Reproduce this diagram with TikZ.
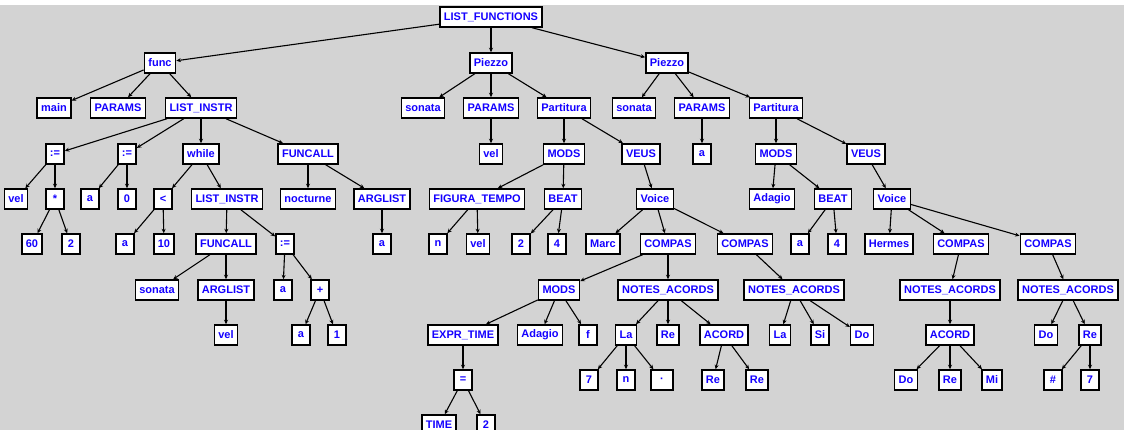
\documentclass[tikz,border=0pt]{standalone}
\usepackage{fontspec}
\setmainfont{Liberation Sans}
\usetikzlibrary{arrows.meta}
\definecolor{bggray}{RGB}{211,211,211}
\definecolor{txtblue}{RGB}{20,0,255}
\tikzset{
  b/.style={draw=black, fill=white, line width=1.5pt, inner xsep=4pt, inner ysep=0pt,
    minimum height=20pt, minimum width=18pt, text=txtblue,
    font=\fontsize{11}{13}\selectfont\bfseries},
  e/.style={line width=1.1pt, -{Stealth[length=4.5pt,width=4pt]}}
}
\begin{document}
\begin{tikzpicture}[x=1pt,y=-1pt]
\fill[white] (0,0) rectangle (1124,5);
\fill[bggray] (0,5) rectangle (1124,430);
\useasboundingbox (0,0) rectangle (1124,430);
% row 1
\node[b] (LF) at (491,17) {LIST\_FUNCTIONS};
% row 2
\node[b] (func) at (160,63) {func};
\node[b] (pz1) at (491,63) {Piezzo};
\node[b] (pz2) at (667,63) {Piezzo};
% row 3
\node[b] (main) at (54,108) {main};
\node[b] (par0) at (118,108) {PARAMS};
\node[b] (li1) at (201,108) {LIST\_INSTR};
\node[b] (son1) at (423,108) {sonata};
\node[b] (par1) at (491,108) {PARAMS};
\node[b] (part1) at (564,108) {Partitura};
\node[b] (son2) at (634,108) {sonata};
\node[b] (par2) at (702,108) {PARAMS};
\node[b] (part2) at (776,108) {Partitura};
% row 4
\node[b] (as1) at (55,154) {:=};
\node[b] (as2) at (127,154) {:=};
\node[b] (while) at (201,154) {while};
\node[b] (fc1) at (308,154) {FUNCALL};
\node[b] (vel1) at (491,154) {vel};
\node[b] (mods1) at (564,154) {MODS};
\node[b] (veus1) at (641,154) {VEUS};
\node[b] (a2) at (702,154) {a};
\node[b] (mods2) at (776,154) {MODS};
\node[b] (veus2) at (866,154) {VEUS};
% row 5
\node[b] (vel0) at (16,199) {vel};
\node[b] (mul) at (55,199) {*};
\node[b] (aa) at (90,199) {a};
\node[b] (zero) at (127,199) {0};
\node[b] (lt) at (163,199) {<};
\node[b] (li2) at (227,199) {LIST\_INSTR};
\node[b] (noct) at (308,199) {nocturne};
\node[b] (al1) at (382,199) {ARGLIST};
\node[b] (fig) at (477,199) {FIGURA\_TEMPO};
\node[b] (beat1) at (563,199) {BEAT};
\node[b] (voice1) at (655,199) {Voice};
\node[b] (adag2) at (772,199) {Adagio};
\node[b] (beat2) at (833,199) {BEAT};
\node[b] (voice2) at (892,199) {Voice};
% row 6
\node[b] (n60) at (32,244) {60};
\node[b] (n2a) at (71,244) {2};
\node[b] (ab) at (125,244) {a};
\node[b] (n10) at (164,244) {10};
\node[b] (fc2) at (226,244) {FUNCALL};
\node[b] (as3) at (285,244) {:=};
\node[b] (ac) at (382,244) {a};
\node[b] (nn1) at (438,244) {n};
\node[b] (vel2) at (478,244) {vel};
\node[b] (n2b) at (521,244) {2};
\node[b] (n4a) at (557,244) {4};
\node[b] (marc) at (603,244) {Marc};
\node[b] (cp1) at (668,244) {COMPAS};
\node[b] (cp2) at (745,244) {COMPAS};
\node[b] (ad) at (800,244) {a};
\node[b] (n4b) at (837,244) {4};
\node[b] (herm) at (889,244) {Hermes};
\node[b] (cp3) at (961,244) {COMPAS};
\node[b] (cp4) at (1048,244) {COMPAS};
% row 7
\node[b] (son3) at (157,290) {sonata};
\node[b] (al2) at (226,290) {ARGLIST};
\node[b] (ae) at (283,290) {a};
\node[b] (plus) at (320,290) {+};
\node[b] (mods3) at (559,290) {MODS};
\node[b] (na1) at (668,290) {NOTES\_ACORDS};
\node[b] (na2) at (794,290) {NOTES\_ACORDS};
\node[b] (na3) at (950,290) {NOTES\_ACORDS};
\node[b] (na4) at (1068,290) {NOTES\_ACORDS};
% row 8
\node[b] (vel3) at (226,335) {vel};
\node[b] (af) at (301,335) {a};
\node[b] (one) at (337,335) {1};
\node[b] (expr) at (463,335) {EXPR\_TIME};
\node[b] (adag1) at (540,335) {Adagio};
\node[b] (ff) at (588,335) {f};
\node[b] (la1) at (626,335) {La};
\node[b] (re1) at (668,335) {Re};
\node[b] (acd1) at (724,335) {ACORD};
\node[b] (la2) at (780,335) {La};
\node[b] (si) at (820,335) {Si};
\node[b] (do1) at (862,335) {Do};
\node[b] (acd2) at (950,335) {ACORD};
\node[b] (do2) at (1046,335) {Do};
\node[b] (re2) at (1090,335) {Re};
% row 9
\node[b] (eq) at (463,380) {=};
\node[b] (n7a) at (589,380) {7};
\node[b] (nn2) at (626,380) {n};
\node[b, minimum width=22pt] (dot) at (662,380) {·};
\node[b] (re3) at (713,380) {Re};
\node[b] (re4) at (757,380) {Re};
\node[b] (do3) at (906,380) {Do};
\node[b] (re5) at (950,380) {Re};
\node[b] (mi) at (992,380) {Mi};
\node[b] (sharp) at (1053,380) {\#};
\node[b] (n7b) at (1090,380) {7};
% row 10
\node[b] (time) at (439,425) {TIME};
\node[b] (n2c) at (486,425) {2};
% edges
\foreach \p/\c in {LF/func,LF/pz1,LF/pz2,
  func/main,func/par0,func/li1,
  li1/as1,li1/as2,li1/while,li1/fc1,
  as1/vel0,as1/mul,mul/n60,mul/n2a,
  as2/aa,as2/zero,
  while/lt,while/li2,lt/ab,lt/n10,
  li2/fc2,li2/as3,fc2/son3,fc2/al2,al2/vel3,
  as3/ae,as3/plus,plus/af,plus/one,
  fc1/noct,fc1/al1,al1/ac,
  pz1/son1,pz1/par1,pz1/part1,par1/vel1,
  part1/mods1,part1/veus1,mods1/fig,mods1/beat1,
  fig/nn1,fig/vel2,beat1/n2b,beat1/n4a,
  veus1/voice1,voice1/marc,voice1/cp1,voice1/cp2,
  cp1/mods3,cp1/na1,mods3/expr,mods3/adag1,mods3/ff,
  expr/eq,eq/time,eq/n2c,
  na1/la1,na1/re1,na1/acd1,la1/n7a,la1/nn2,la1/dot,
  acd1/re3,acd1/re4,
  cp2/na2,na2/la2,na2/si,na2/do1,
  pz2/son2,pz2/par2,pz2/part2,par2/a2,
  part2/mods2,part2/veus2,mods2/adag2,mods2/beat2,
  beat2/ad,beat2/n4b,veus2/voice2,
  voice2/herm,voice2/cp3,voice2/cp4,
  cp3/na3,na3/acd2,acd2/do3,acd2/re5,acd2/mi,
  cp4/na4,na4/do2,na4/re2,re2/sharp,re2/n7b}
  \draw[e] (\p) -- (\c);
\end{tikzpicture}
\end{document}
